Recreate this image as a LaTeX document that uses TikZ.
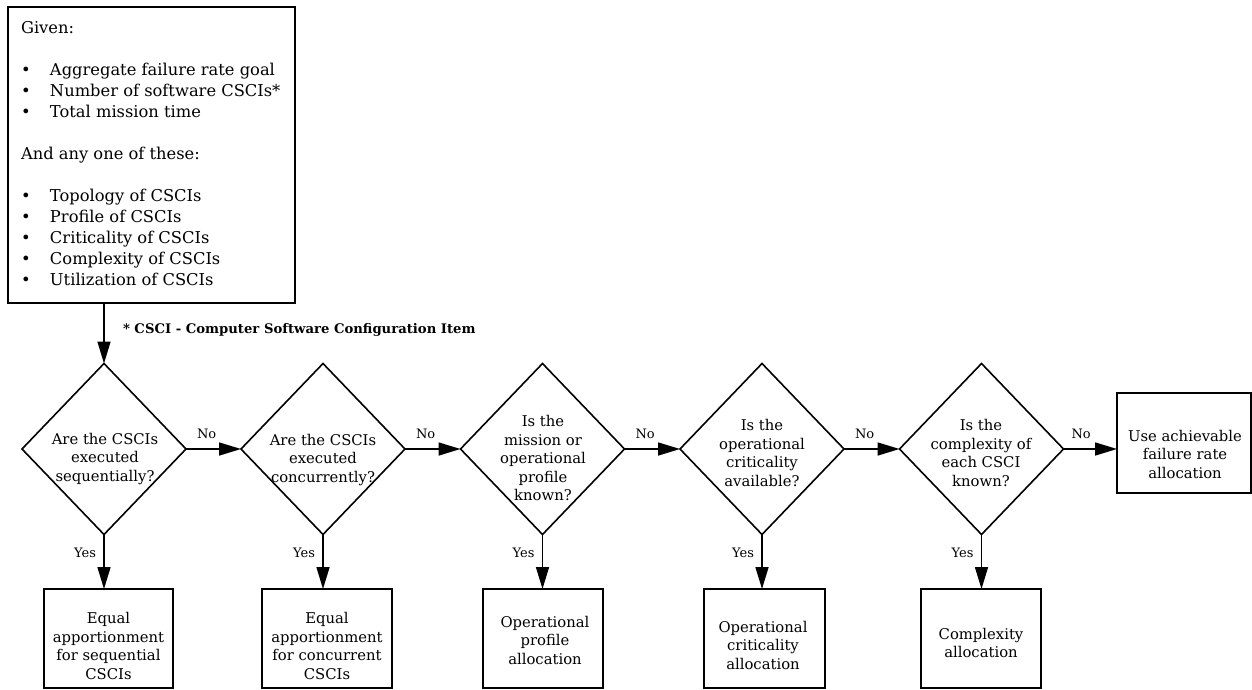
\documentclass[tikz,border=0pt]{standalone}
\usepackage{fontspec}
\setmainfont{DejaVu Serif}
\usetikzlibrary{arrows.meta,shapes.geometric}
\newcommand{\itm}{\makebox[29pt][l]{\textbullet}}
\begin{document}
\begin{tikzpicture}[x=1pt,y=-1pt,
  line width=1.5pt,
  every node/.style={inner sep=0pt, outer sep=0pt},
  txt/.style={font=\fontsize{14.8}{18.5}\selectfont, align=center},
  box/.style={draw, line width=1.5pt, rectangle},
  dia/.style={draw, line width=1.6pt, diamond, minimum width=164pt, minimum height=171pt},
  flow/.style={-{Triangle[length=22pt,width=13pt]}, line width=1.6pt},
  lab/.style={font=\fontsize{13}{15}\selectfont},
]
\useasboundingbox (0,0) rectangle (1252,690);

% inputs box
\node[box, minimum width=287pt, minimum height=296pt] (given) at (151.5,155) {};
\node[anchor=north west, align=left, font=\fontsize{16.3}{21}\selectfont] (giventext) at (21,21)
 {Given:\\[21pt]
  \itm Aggregate failure rate goal\\
  \itm Number of software CSCIs*\\
  \itm Total mission time\\[21pt]
  And any one of these:\\[21pt]
  \itm Topology of CSCIs\\
  \itm Profile of CSCIs\\
  \itm Criticality of CSCIs\\
  \itm Complexity of CSCIs\\
  \itm Utilization of CSCIs};

\node[anchor=base west, font=\fontsize{13.2}{16}\selectfont\bfseries] (note) at (123,333)
 {* CSCI - Computer Software Configuration Item};

% decisions
\node[dia] (d1) at (104,449) {};
\node[dia] (d2) at (323,449) {};
\node[dia] (d3) at (542.5,449) {};
\node[dia] (d4) at (762,449) {};
\node[dia] (d5) at (981.5,449) {};

\node[txt] (q1) at (105,459) {Are the CSCIs\\executed\\sequentially?};
\node[txt] (q2) at (323,460) {Are the CSCIs\\executed\\concurrently?};
\node[txt] (q3) at (543,458) {Is the\\mission or\\operational\\profile\\known?};
\node[txt] (q4) at (762,453) {Is the\\operational\\criticality\\available?};
\node[txt] (q5) at (981,453) {Is the\\complexity of\\each CSCI\\known?};

% outcomes
\node[box, minimum width=129pt, minimum height=99pt] (b1) at (108.5,638.5) {};
\node[box, minimum width=130pt, minimum height=99pt] (b2) at (327,638.5) {};
\node[box, minimum width=120pt, minimum height=99pt] (b3) at (543,638.5) {};
\node[box, minimum width=121pt, minimum height=99pt] (b4) at (764.5,638.5) {};
\node[box, minimum width=120pt, minimum height=99pt] (b5) at (981,638.5) {};
\node[box, minimum width=134pt, minimum height=100pt] (b6) at (1184,443) {};

\node[txt] (a1) at (108.5,646) {Equal\\apportionment\\for sequential\\CSCIs};
\node[txt] (a2) at (327,646) {Equal\\apportionment\\for concurrent\\CSCIs};
\node[txt] (a3) at (545,640) {Operational\\profile\\allocation};
\node[txt] (a4) at (763,645) {Operational\\criticality\\allocation};
\node[txt] (a5) at (981,643) {Complexity\\allocation};
\node[txt] (a6) at (1185,454) {Use achievable\\failure rate\\allocation};

% connectors
\draw[flow] (given.south -| d1.north) -- (d1.north);

\foreach \d/\b in {d1/b1,d2/b2,d3/b3,d4/b4,d5/b5}{
  \draw[flow] (\d.south) -- (\d.south |- \b.north)
    node[lab, pos=0.34, anchor=east, xshift=-8pt] {Yes};
}
\foreach \d/\e in {d1/d2,d2/d3,d3/d4,d4/d5}{
  \draw[flow] (\d.east) -- (\e.west)
    node[lab, pos=0, anchor=west, xshift=11pt, yshift=15pt] {No};
}
\draw[flow] (d5.east) -- (d5.east -| b6.west)
    node[lab, pos=0, anchor=west, xshift=8pt, yshift=15pt] {No};
\end{tikzpicture}
\end{document}
